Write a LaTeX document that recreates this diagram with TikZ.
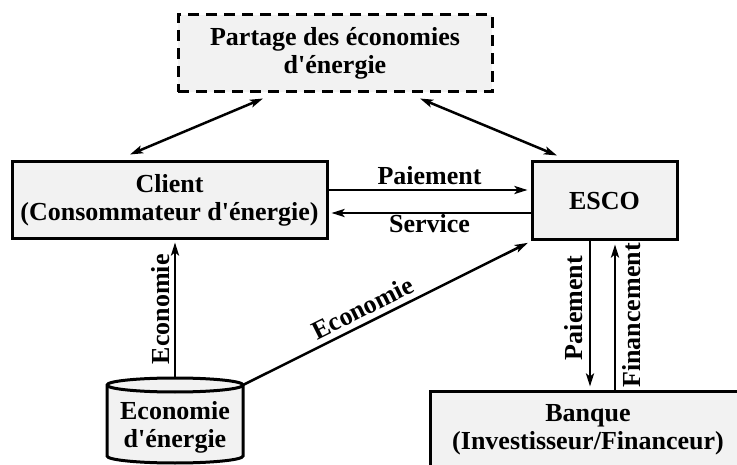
\documentclass[tikz,border=0pt]{standalone}
\usepackage{fontspec}
\setmainfont{Liberation Serif}
\usetikzlibrary{arrows.meta}
\definecolor{boxgray}{RGB}{242,242,242}
\begin{document}
\begin{tikzpicture}[x=1pt,y=-1pt,font=\fontsize{26}{28}\selectfont\bfseries]
% Styles
\tikzstyle{block}=[draw, line width=3pt, fill=boxgray, align=center, inner sep=0pt]
\tikzstyle{flow}=[line width=2.5pt, -{Stealth[length=13pt,width=8pt,inset=3pt]}]
\tikzstyle{flowboth}=[line width=2.5pt, {Stealth[length=13pt,width=8pt,inset=3pt]}-{Stealth[length=13pt,width=8pt,inset=3pt]}]

\useasboundingbox (0,0) rectangle (737,465);
\clip (0,0) rectangle (737,465);

% draw the nodes
\node[block, dash pattern=on 11pt off 7pt, minimum width=314, minimum height=77] (partage) at (335,53.5) {Partage des économies\\d\textquotesingle énergie};
\node[block, minimum width=315, minimum height=77] (client) at (169.5,200.5) {Client\\(Consommateur d\textquotesingle énergie)};
\node[block, minimum width=145, minimum height=78] (esco) at (604.5,201) {ESCO};
\node[block, minimum width=316, minimum height=78] (banque) at (588,430) {Banque\\(Investisseur/Financeur)};

%cylinder
\draw[line width=3pt, fill=boxgray] (107,385) -- (107,456) arc(180:0:68 and 7) -- (243,385) arc(0:-180:68 and 7) -- cycle;
\draw[line width=3pt] (107,385) arc(180:0:68 and 7);
\node[align=center] (econ) at (175,427) {Economie\\d\textquotesingle énergie};
\coordinate (econtop) at (175,378);
\coordinate (econright) at (243,385);

%fill path
\draw[flowboth] ([xshift=-72pt,yshift=-5pt]partage.south) -- ([xshift=-39.5pt,yshift=6pt]client.north);
\draw[flowboth] ([xshift=85pt,yshift=-5pt]partage.south) -- ([xshift=-47.5pt,yshift=5pt]esco.north);

\draw[flow, shorten >=3pt] ([yshift=10.5pt]client.east) -- ([yshift=10.5pt]client.east -| esco.west)
  node[midway, above=1pt] {Paiement};
\draw[flow, shorten >=3pt] ([yshift=-12pt]esco.west) -- ([yshift=-12pt]esco.west -| client.east)
  node[midway, below=-3pt] {Service};

\draw[flow, shorten >=2pt] (econtop) -- (econtop |- client.south)
  node[midway, sloped, above=1pt] {Economie};
\draw[flow, shorten >=3pt] (econright) -- (esco.south west)
  node[pos=0.44, sloped, above=2pt] {Economie};

\draw[flow, shorten >=3pt] ([xshift=-14.5pt]esco.south) -- ([xshift=-14.5pt]esco.south |- banque.north)
  node[pos=0.45, rotate=90, anchor=south, yshift=3pt] {Paiement};
\draw[flow, shorten >=3pt] ([xshift=10.5pt]esco.south |- banque.north) -- ([xshift=10.5pt]esco.south)
  node[midway, sloped, below=3pt] {Financement};

\end{tikzpicture}
\end{document}
